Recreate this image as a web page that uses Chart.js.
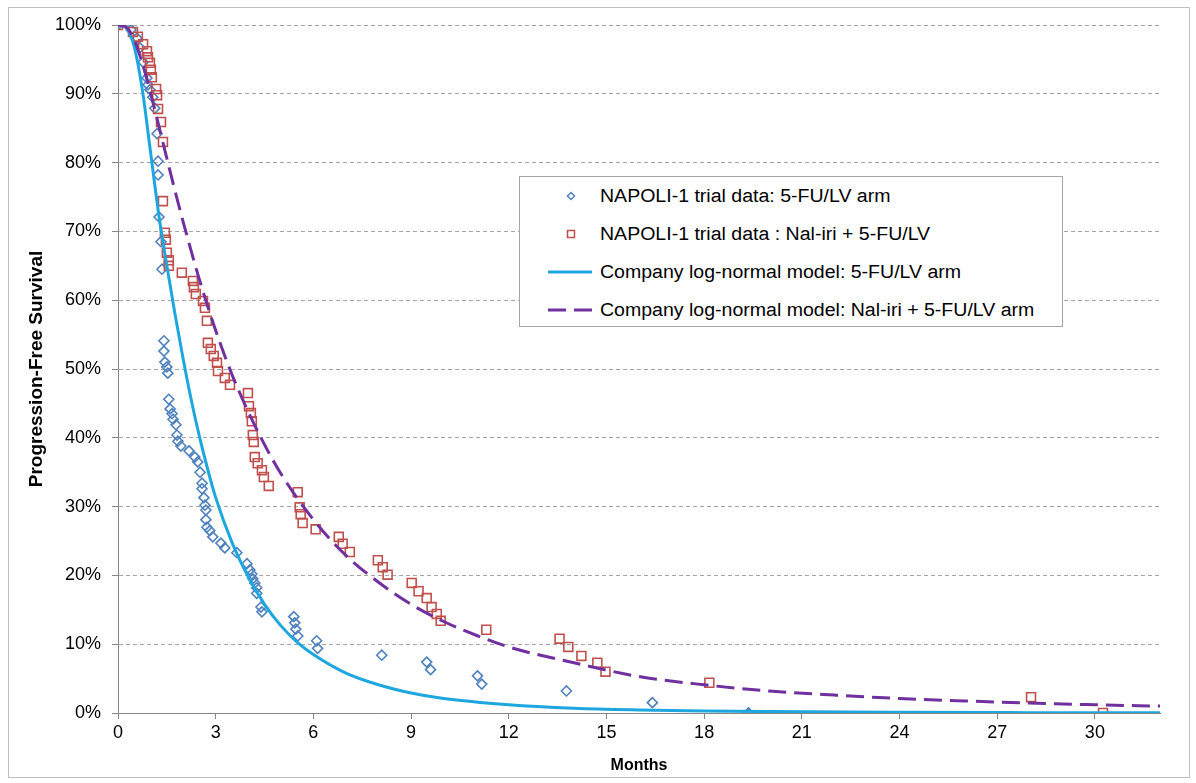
<!DOCTYPE html>
<html>
<head>
<meta charset="utf-8">
<script src="https://cdn.jsdelivr.net/npm/chart.js@4.4.1/dist/chart.umd.min.js"></script>
<style>
  html, body { margin: 0; padding: 0; background: #fff; }
  #wrap { position: relative; width: 1196px; height: 783px; }
  #c { position: absolute; left: 0; top: 0; }
  #legend {
    position: absolute; left: 519px; top: 176px; width: 544px; height: 151px;
    box-sizing: border-box; border: 1px solid #a6a6a6; background: #fff;
    font-family: "Liberation Sans", Arial, sans-serif; font-size: 18px; color: #000;
  }
  .item { position: absolute; left: 0; height: 20px; width: 100%; }
  .item svg { position: absolute; left: 26px; top: 0; }
  .item span { position: absolute; left: 80px; top: 0; line-height: 20px; white-space: nowrap;
    transform: scaleX(1.085); transform-origin: 0 50%; }
</style>
</head>
<body>
<div id="wrap">
  <canvas id="c" width="1196" height="783"></canvas>
  <div id="legend">
    <div class="item" style="top:9px"><svg width="50" height="20"><path d="M25 6.5 L28.5 10 L25 13.5 L21.5 10 Z" fill="none" stroke="#4F81BD" stroke-width="1.5"/></svg><span>NAPOLI-1 trial data: 5-FU/LV arm</span></div>
    <div class="item" style="top:47px"><svg width="50" height="20"><rect x="21.5" y="6.5" width="7" height="7" fill="none" stroke="#C0504D" stroke-width="1.5"/></svg><span>NAPOLI-1 trial data : Nal-iri + 5-FU/LV</span></div>
    <div class="item" style="top:85px"><svg width="50" height="20"><line x1="2" y1="10" x2="46" y2="10" stroke="#1EA7DF" stroke-width="3"/></svg><span>Company log-normal model: 5-FU/LV arm</span></div>
    <div class="item" style="top:123px"><svg width="50" height="20"><line x1="2" y1="10" x2="46" y2="10" stroke="#7030A0" stroke-width="3" stroke-dasharray="18,8"/></svg><span>Company log-normal model: Nal-iri + 5-FU/LV arm</span></div>
  </div>
</div>
<script>
// ---- Data ----
// NAPOLI-1 trial data: 5-FU/LV arm (months, PFS %)
const fuMonths = [0, 0.40, 0.58, 0.67, 0.77, 0.89, 0.92, 0.98, 1.07, 1.13, 1.20, 1.23, 1.23, 1.26, 1.32, 1.35,
  1.41, 1.41, 1.44, 1.50, 1.53, 1.56, 1.60, 1.66, 1.69, 1.78, 1.81, 1.84, 1.93, 2.18, 2.36, 2.45, 2.52, 2.58, 2.58,
  2.64, 2.67, 2.70, 2.70, 2.73, 2.82, 2.91, 3.16, 3.28, 3.65, 3.96, 4.05, 4.11, 4.14, 4.20, 4.26, 4.26, 4.39, 4.42,
  5.40, 5.43, 5.46, 5.52, 6.10, 6.13, 8.10, 9.48, 9.60, 11.04, 11.17, 13.77, 16.41, 19.36];
const fuPFS = [100, 99.3, 98.1, 96.7, 94.6, 92.3, 91.3, 90.6, 89.5, 87.9, 84.2, 80.2, 78.2, 72.1, 68.5, 64.5,
  54.1, 52.6, 51.0, 50.3, 49.4, 45.6, 44.2, 43.5, 42.7, 41.9, 40.4, 39.5, 38.8, 38.1, 37.2, 36.5, 35.0, 33.4, 32.6,
  31.3, 30.2, 29.5, 28.1, 27.0, 26.5, 25.6, 24.7, 24.0, 23.3, 21.7, 20.8, 20.2, 19.5, 18.9, 18.2, 17.4, 15.4, 14.7,
  14.0, 13.1, 12.2, 11.2, 10.5, 9.4, 8.4, 7.4, 6.3, 5.4, 4.2, 3.2, 1.5, 0];

// NAPOLI-1 trial data: Nal-iri + 5-FU/LV (months, PFS %)
const nalMonths = [0, 0.46, 0.61, 0.77, 0.89, 0.92, 0.98, 1.01, 1.04, 1.17, 1.20, 1.23, 1.32, 1.38, 1.38, 1.44,
  1.47, 1.50, 1.56, 1.56, 1.96, 2.30, 2.33, 2.39, 2.61, 2.67, 2.73, 2.76, 2.85, 2.94, 3.04, 3.07, 3.28, 3.44,
  3.99, 4.02, 4.08, 4.11, 4.14, 4.17, 4.20, 4.29, 4.42, 4.48, 4.63, 5.52, 5.58, 5.61, 5.67, 6.07, 6.78, 6.90, 7.12,
  7.98, 8.13, 8.28, 9.02, 9.23, 9.48, 9.63, 9.79, 9.91, 11.31, 13.56, 13.83, 14.23, 14.72, 14.97, 18.16, 28.04, 30.25];
const nalPFS = [100, 99.0, 98.3, 97.2, 96.2, 95.3, 94.5, 93.5, 92.4, 90.7, 89.8, 87.8, 85.9, 83.0, 74.4, 69.8,
  68.8, 66.9, 65.8, 65.0, 64.0, 62.8, 61.9, 60.9, 59.9, 58.9, 57.0, 53.8, 52.9, 51.9, 50.9, 49.7, 48.7, 47.7,
  46.5, 44.6, 43.6, 42.4, 40.4, 39.4, 37.2, 36.3, 35.3, 34.3, 33.0, 32.1, 29.9, 28.9, 27.6, 26.7, 25.6, 24.6, 23.4,
  22.2, 21.2, 20.1, 18.9, 17.7, 16.7, 15.4, 14.4, 13.4, 12.1, 10.8, 9.6, 8.3, 7.3, 6.0, 4.4, 2.3, 0];

// Company log-normal model: 5-FU/LV arm
const fuModelMonths = [0, 0.25, 0.5, 0.75, 1, 1.25, 1.5, 1.75, 2, 2.25, 2.5, 2.75, 3, 3.5, 4, 4.5, 5, 5.5, 6,
  7, 8, 9, 10, 12, 14, 16, 18, 20, 24, 28, 32];
const fuModelPFS = [100, 99.6, 96.8, 90.5, 81.5, 72.5, 65, 58, 51.5, 45.5, 40.2, 35.5, 31.3, 24.8, 19.8, 15.8,
  12.7, 10.3, 8.5, 5.8, 4.1, 2.9, 2.1, 1.2, 0.7, 0.45, 0.3, 0.2, 0.1, 0.05, 0.03];

// Company log-normal model: Nal-iri + 5-FU/LV arm
const nalModelMonths = [0, 0.25, 0.5, 0.75, 1, 1.25, 1.5, 1.75, 2, 2.5, 3, 3.5, 4, 4.5, 5, 6, 7, 8, 9, 10, 11,
  12, 14, 16, 18, 20, 22, 24, 26, 28, 30, 32];
const nalModelPFS = [100, 99.7, 97.8, 94.4, 90.1, 85.4, 80.6, 75.9, 71.4, 63.0, 55.6, 49.2, 43.8, 39.0, 34.8,
  28.1, 22.9, 19.0, 15.8, 13.3, 11.3, 9.6, 7.3, 5.3, 4.1, 3.2, 2.6, 2.1, 1.75, 1.45, 1.2, 1.0];

const xTickStep = 3;
const yTickStep = 10;
const xTitle = 'Months';
const yTitle = 'Progression-Free Survival';

const toXY = (xs, ys) => xs.map((x, i) => ({x: x, y: ys[i]}));

Chart.defaults.font.family = '"Liberation Sans", Arial, sans-serif';
Chart.defaults.color = '#000';

const frame = {
  id: 'frame',
  beforeDraw(chart) {
    const ctx = chart.ctx;
    ctx.save();
    ctx.fillStyle = '#fff';
    ctx.fillRect(0, 0, chart.width, chart.height);
    ctx.strokeStyle = '#c0c0c0';
    ctx.lineWidth = 1;
    ctx.strokeRect(8.5, 7.5, 1181, 770);
    ctx.restore();
  }
};

new Chart(document.getElementById('c'), {
  type: 'scatter',
  data: {
    datasets: [
      {
        label: 'Company log-normal model: Nal-iri + 5-FU/LV arm',
        data: toXY(nalModelMonths, nalModelPFS),
        showLine: true, borderColor: '#7030A0', borderWidth: 3, borderDash: [18, 8],
        pointRadius: 0, cubicInterpolationMode: 'monotone', fill: false
      },
      {
        label: 'Company log-normal model: 5-FU/LV arm',
        data: toXY(fuModelMonths, fuModelPFS),
        showLine: true, borderColor: '#1EA7DF', borderWidth: 3,
        pointRadius: 0, cubicInterpolationMode: 'monotone', fill: false
      },
      {
        label: 'NAPOLI-1 trial data : Nal-iri + 5-FU/LV',
        data: toXY(nalMonths, nalPFS),
        pointStyle: 'rect', pointRadius: 6.3, borderWidth: 1.6,
        borderColor: '#C0504D', backgroundColor: 'rgba(255,255,255,0)'
      },
      {
        label: 'NAPOLI-1 trial data: 5-FU/LV arm',
        data: toXY(fuMonths, fuPFS),
        pointStyle: 'rectRot', pointRadius: 5, borderWidth: 1.6,
        borderColor: '#4F81BD', backgroundColor: 'rgba(255,255,255,0)'
      }
    ]
  },
  options: {
    responsive: false,
    animation: false,
    events: [],
    layout: { padding: { left: 20, right: 36, top: 25, bottom: 8 } },
    plugins: { legend: { display: false }, tooltip: { enabled: false } },
    scales: {
      x: {
        type: 'linear', min: 0, max: 32,
        ticks: { stepSize: xTickStep, includeBounds: false, font: { size: 18 }, padding: 3, maxRotation: 0 },
        grid: { drawOnChartArea: false, drawTicks: true, tickLength: 6, tickColor: '#868686', color: '#868686' },
        border: { color: '#868686', width: 1 },
        title: { display: true, text: xTitle, font: { size: 16, weight: 'bold' }, padding: { top: 0, bottom: 0 } },
        afterFit(s) { s.height = 783 - 713 - 8; }
      },
      y: {
        min: 0, max: 100,
        ticks: { stepSize: yTickStep, font: { size: 18 }, padding: 11, callback: v => v + '%' },
        grid: { color: '#a6a6a6', tickColor: '#868686', tickLength: 6, tickBorderDash: [] },
        border: { color: '#868686', width: 1, dash: [4, 3] },
        title: { display: true, text: yTitle, font: { size: 19, weight: 'bold' }, padding: { top: 5, bottom: 0 } },
        afterFit(s) { s.width = 118 - 20; }
      }
    }
  },
  plugins: [frame]
});
</script>
</body>
</html>
